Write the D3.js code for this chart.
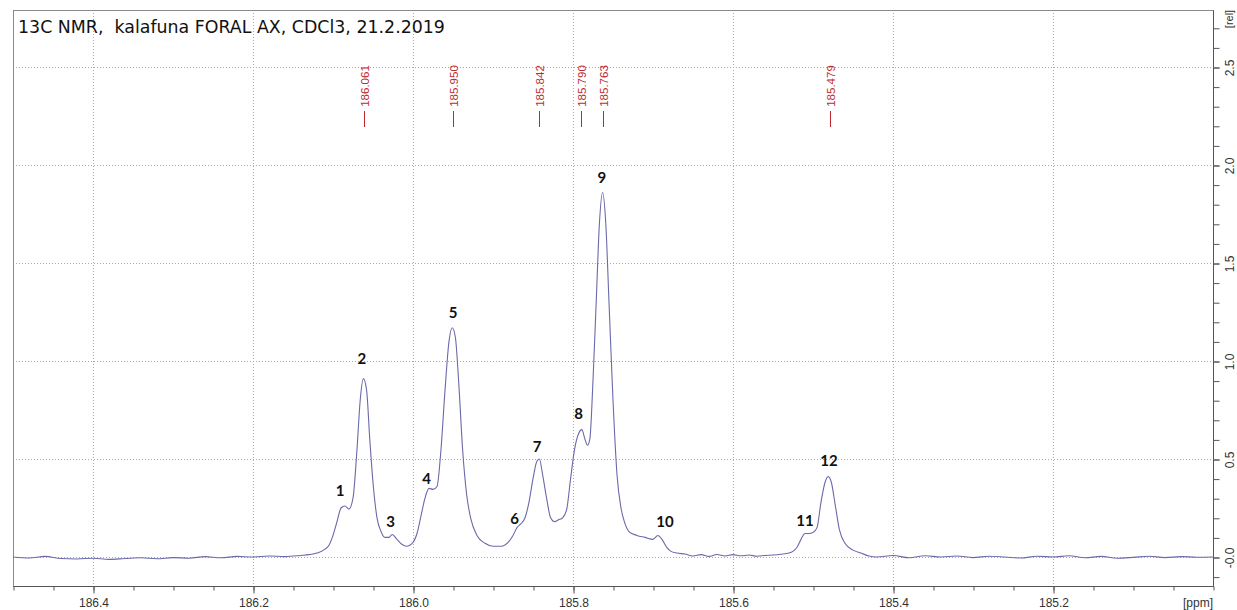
<!DOCTYPE html>
<html>
<head>
<meta charset="utf-8">
<script src="https://cdn.jsdelivr.net/npm/d3@7"></script>
<style>
  html, body { margin: 0; padding: 0; background: #fff; }
  svg { display: block; }
</style>
</head>
<body>
<svg id="chart" width="1237" height="610"></svg>
<script>
// 13C NMR spectrum, carbonyl region (ppm vs relative intensity)
const spectrumPpm = [
  186.50, 186.48, 186.46, 186.44, 186.42, 186.40, 186.38, 186.36, 186.34, 186.32,
  186.30, 186.28, 186.26, 186.24, 186.22, 186.20, 186.18, 186.16, 186.14, 186.13,
  186.12, 186.11, 186.105, 186.10, 186.095, 186.09, 186.085, 186.08, 186.075, 186.07,
  186.066, 186.062, 186.058, 186.054, 186.05, 186.045, 186.04, 186.035, 186.03, 186.026,
  186.02, 186.014, 186.008, 186.00, 185.995, 185.99, 185.985, 185.98, 185.975, 185.97,
  185.965, 185.96, 185.955, 185.951, 185.947, 185.943, 185.938, 185.933, 185.928, 185.92,
  185.91, 185.90, 185.89, 185.88, 185.875, 185.87, 185.865, 185.86, 185.855, 185.85,
  185.845, 185.842, 185.838, 185.833, 185.828, 185.823, 185.818, 185.813, 185.808, 185.803,
  185.798, 185.793, 185.789, 185.785, 185.782, 185.779, 185.775, 185.771, 185.767, 185.763,
  185.759, 185.755, 185.75, 185.745, 185.74, 185.735, 185.73, 185.72, 185.71, 185.70,
  185.694, 185.688, 185.683, 185.678, 185.67, 185.66, 185.65, 185.64, 185.63, 185.62,
  185.61, 185.60, 185.59, 185.58, 185.57, 185.56, 185.55, 185.54, 185.53, 185.52,
  185.515, 185.51, 185.505, 185.50, 185.495, 185.49, 185.485, 185.481, 185.477, 185.472,
  185.467, 185.46, 185.45, 185.44, 185.43, 185.42, 185.40, 185.38, 185.36, 185.34,
  185.32, 185.30, 185.28, 185.26, 185.24, 185.22, 185.20, 185.18, 185.16, 185.14,
  185.12, 185.10, 185.08, 185.06, 185.04, 185.02, 185.00
];
const spectrumIntensity = [
  0.000, -0.005, 0.003, -0.008, -0.010, -0.006, -0.012, -0.008, -0.004, -0.009,
  -0.003, -0.006, 0.002, -0.004, 0.003, 0.000, 0.005, 0.002, 0.008, 0.012,
  0.020, 0.040, 0.060, 0.110, 0.180, 0.250, 0.260, 0.245, 0.300, 0.550,
  0.800, 0.910, 0.850, 0.600, 0.380, 0.200, 0.130, 0.100, 0.100, 0.115,
  0.090, 0.065, 0.055, 0.075, 0.120, 0.210, 0.300, 0.350, 0.345, 0.360,
  0.550, 0.850, 1.100, 1.170, 1.120, 0.900, 0.550, 0.320, 0.200, 0.110,
  0.070, 0.055, 0.055, 0.080, 0.110, 0.150, 0.170, 0.200, 0.280, 0.400,
  0.490, 0.500, 0.420, 0.300, 0.200, 0.180, 0.190, 0.200, 0.240, 0.400,
  0.550, 0.630, 0.650, 0.600, 0.570, 0.600, 0.900, 1.300, 1.700, 1.860,
  1.700, 1.300, 0.800, 0.420, 0.250, 0.170, 0.130, 0.110, 0.100, 0.090,
  0.110, 0.085, 0.050, 0.030, 0.020, 0.015, 0.005, 0.012, 0.003, 0.013,
  0.005, 0.012, 0.006, 0.010, 0.004, 0.008, 0.010, 0.014, 0.020, 0.050,
  0.090, 0.120, 0.120, 0.125, 0.150, 0.280, 0.380, 0.410, 0.380, 0.260,
  0.140, 0.070, 0.035, 0.020, 0.005, 0.000, 0.008, -0.004, 0.006, 0.000,
  0.005, -0.003, 0.004, 0.000, -0.005, 0.004, 0.000, 0.006, -0.004, 0.003,
  -0.006, -0.002, 0.004, -0.003, 0.002, -0.001, 0.000
];

// Picked peak shifts shown along the top
const pickedPeaks = [186.061, 185.950, 185.842, 185.790, 185.763, 185.479];

// Numbered peak annotations (ppm, intensity level of the label)
const peakNames  = ["1", "2", "3", "4", "5", "6", "7", "8", "9", "10", "11", "12"];
const peakLabelPpm = [186.091, 186.064, 186.028, 185.983, 185.950, 185.873, 185.845, 185.793, 185.764, 185.685, 185.510, 185.480];
const peakLabelLevel = [0.342, 1.015, 0.184, 0.403, 1.250, 0.199, 0.566, 0.735, 1.939, 0.184, 0.189, 0.495];

// Axis ticks
const xMajorTicks = [186.4, 186.2, 186.0, 185.8, 185.6, 185.4, 185.2];
const yMajorTicks = [0, 0.5, 1.0, 1.5, 2.0, 2.5];
const yTickLabels = ["-0.0", "0.5", "1.0", "1.5", "2.0", "2.5"];

const titleText = "13C NMR,  kalafuna FORAL AX, CDCl3, 21.2.2019";

// ---- layout ----
const frame = { left: 13, right: 1213, top: 10, bottom: 586 };

const x = d3.scaleLinear().domain([186.5, 185.0]).range([frame.left, frame.right]);
const y = d3.scaleLinear().domain([0, 2.5]).range([557, 67]);

const svg = d3.select("#chart");

// grid
const grid = svg.append("g").attr("class", "grid")
  .attr("stroke", "#a8a8a8").attr("stroke-width", 1).attr("stroke-dasharray", "1,2");
grid.selectAll("line.v").data(xMajorTicks).join("line")
  .attr("class", "v")
  .attr("x1", d => Math.round(x(d)) + 0.5).attr("x2", d => Math.round(x(d)) + 0.5)
  .attr("y1", frame.top).attr("y2", frame.bottom);
grid.selectAll("line.h").data(yMajorTicks).join("line")
  .attr("class", "h")
  .attr("x1", frame.left).attr("x2", frame.right)
  .attr("y1", d => Math.round(y(d)) + 0.5).attr("y2", d => Math.round(y(d)) + 0.5);

// frame
svg.append("rect")
  .attr("x", frame.left + 0.5).attr("y", frame.top + 0.5)
  .attr("width", frame.right - frame.left).attr("height", frame.bottom - frame.top)
  .attr("fill", "none").attr("stroke", "#8a8a8a").attr("stroke-width", 1);

// x axis: major + minor ticks
const xMinor = d3.range(0, 31).map(i => +(186.5 - i * 0.05).toFixed(2));
const xAxisMinor = svg.append("g")
  .attr("transform", `translate(0.5,${frame.bottom + 0.5})`)
  .call(d3.axisBottom(x).tickValues(xMinor).tickSize(4).tickFormat(""));
const xAxis = svg.append("g")
  .attr("transform", `translate(0.5,${frame.bottom + 0.5})`)
  .call(d3.axisBottom(x).tickValues(xMajorTicks).tickSize(7).tickPadding(5).tickFormat(d3.format(".1f")));
[xAxisMinor, xAxis].forEach(g => {
  g.select(".domain").attr("stroke", "#555");
  g.selectAll(".tick line").attr("stroke", "#555");
});
xAxisMinor.select(".domain").remove();
xAxis.select(".domain").attr("d", `M${frame.left},0H${frame.right}`);
xAxis.selectAll(".tick text")
  .attr("font-family", "Liberation Sans, Arial, sans-serif")
  .attr("font-size", 12).attr("fill", "#333");

svg.append("text")
  .attr("x", 1198).attr("y", 607)
  .attr("text-anchor", "middle")
  .attr("font-family", "Liberation Sans, Arial, sans-serif")
  .attr("font-size", 12).attr("fill", "#333")
  .text("[ppm]");

// y axis on the right: major + minor ticks
const yMinor = d3.range(-1, 28).map(i => +(i * 0.1).toFixed(1));
const yAxisMinor = svg.append("g")
  .attr("transform", `translate(${frame.right + 0.5},0.5)`)
  .call(d3.axisRight(y).tickValues(yMinor).tickSize(6).tickFormat(""));
yAxisMinor.select(".domain").remove();
yAxisMinor.selectAll(".tick line").attr("stroke", "#555");

const yAxis = svg.append("g")
  .attr("transform", `translate(${frame.right + 0.5},0.5)`)
  .call(d3.axisRight(y).tickValues(yMajorTicks).tickSize(6)
    .tickFormat((d, i) => yTickLabels[i]));
yAxis.select(".domain").attr("d", `M0,${frame.top}V${frame.bottom}`).attr("stroke", "#555");
yAxis.selectAll(".tick line").attr("stroke", "#555");
yAxis.selectAll(".tick text")
  .attr("x", 0).attr("dy", null)
  .attr("transform", "translate(16,0) rotate(-90)")
  .attr("text-anchor", "middle")
  .attr("dominant-baseline", "central")
  .attr("font-family", "Liberation Sans, Arial, sans-serif")
  .attr("font-size", 12).attr("fill", "#333");

svg.append("text")
  .attr("transform", `translate(${frame.right + 16},19) rotate(-90)`)
  .attr("text-anchor", "middle")
  .attr("dominant-baseline", "central")
  .attr("font-family", "Liberation Sans, Arial, sans-serif")
  .attr("font-size", 11).attr("fill", "#333")
  .text("[rel]");

// spectrum trace
const points = spectrumPpm.map((p, i) => [p, spectrumIntensity[i]]);
const line = d3.line()
  .x(d => x(d[0]))
  .y(d => y(d[1]))
  .curve(d3.curveMonotoneX);
svg.append("path")
  .datum(points.slice().reverse())
  .attr("fill", "none")
  .attr("stroke", "#6a6aaa")
  .attr("stroke-width", 1.1)
  .attr("stroke-linejoin", "round")
  .attr("d", line);

// picked peak markers
const marks = svg.append("g").attr("fill", "#be2a2e").attr("stroke", "#be2a2e");
pickedPeaks.forEach(p => {
  const px = Math.round(x(p)) + 0.5;
  marks.append("line")
    .attr("x1", px).attr("x2", px)
    .attr("y1", 111).attr("y2", 127)
    .attr("stroke-width", 1);
  marks.append("text")
    .attr("transform", `translate(${px},86) rotate(-90)`)
    .attr("text-anchor", "middle")
    .attr("dominant-baseline", "central")
    .attr("stroke", "none")
    .attr("font-family", "Liberation Sans, Arial, sans-serif")
    .attr("font-size", 11.5)
    .text(p.toFixed(3));
});

// numbered peak labels
svg.append("g").selectAll("text")
  .data(peakNames).join("text")
  .attr("x", (d, i) => x(peakLabelPpm[i]))
  .attr("y", (d, i) => y(peakLabelLevel[i]))
  .attr("text-anchor", "middle")
  .attr("dominant-baseline", "central")
  .attr("font-family", "Lato, 'Open Sans', sans-serif")
  .attr("font-weight", "bold")
  .attr("font-size", 15)
  .attr("fill", "#111")
  .text(d => d);

// title
svg.append("text")
  .attr("x", 18).attr("y", 33)
  .attr("font-family", "DejaVu Sans, Verdana, sans-serif")
  .attr("font-size", 17.4)
  .attr("fill", "#111")
  .attr("xml:space", "preserve")
  .style("white-space", "pre")
  .text(titleText);
</script>
</body>
</html>
